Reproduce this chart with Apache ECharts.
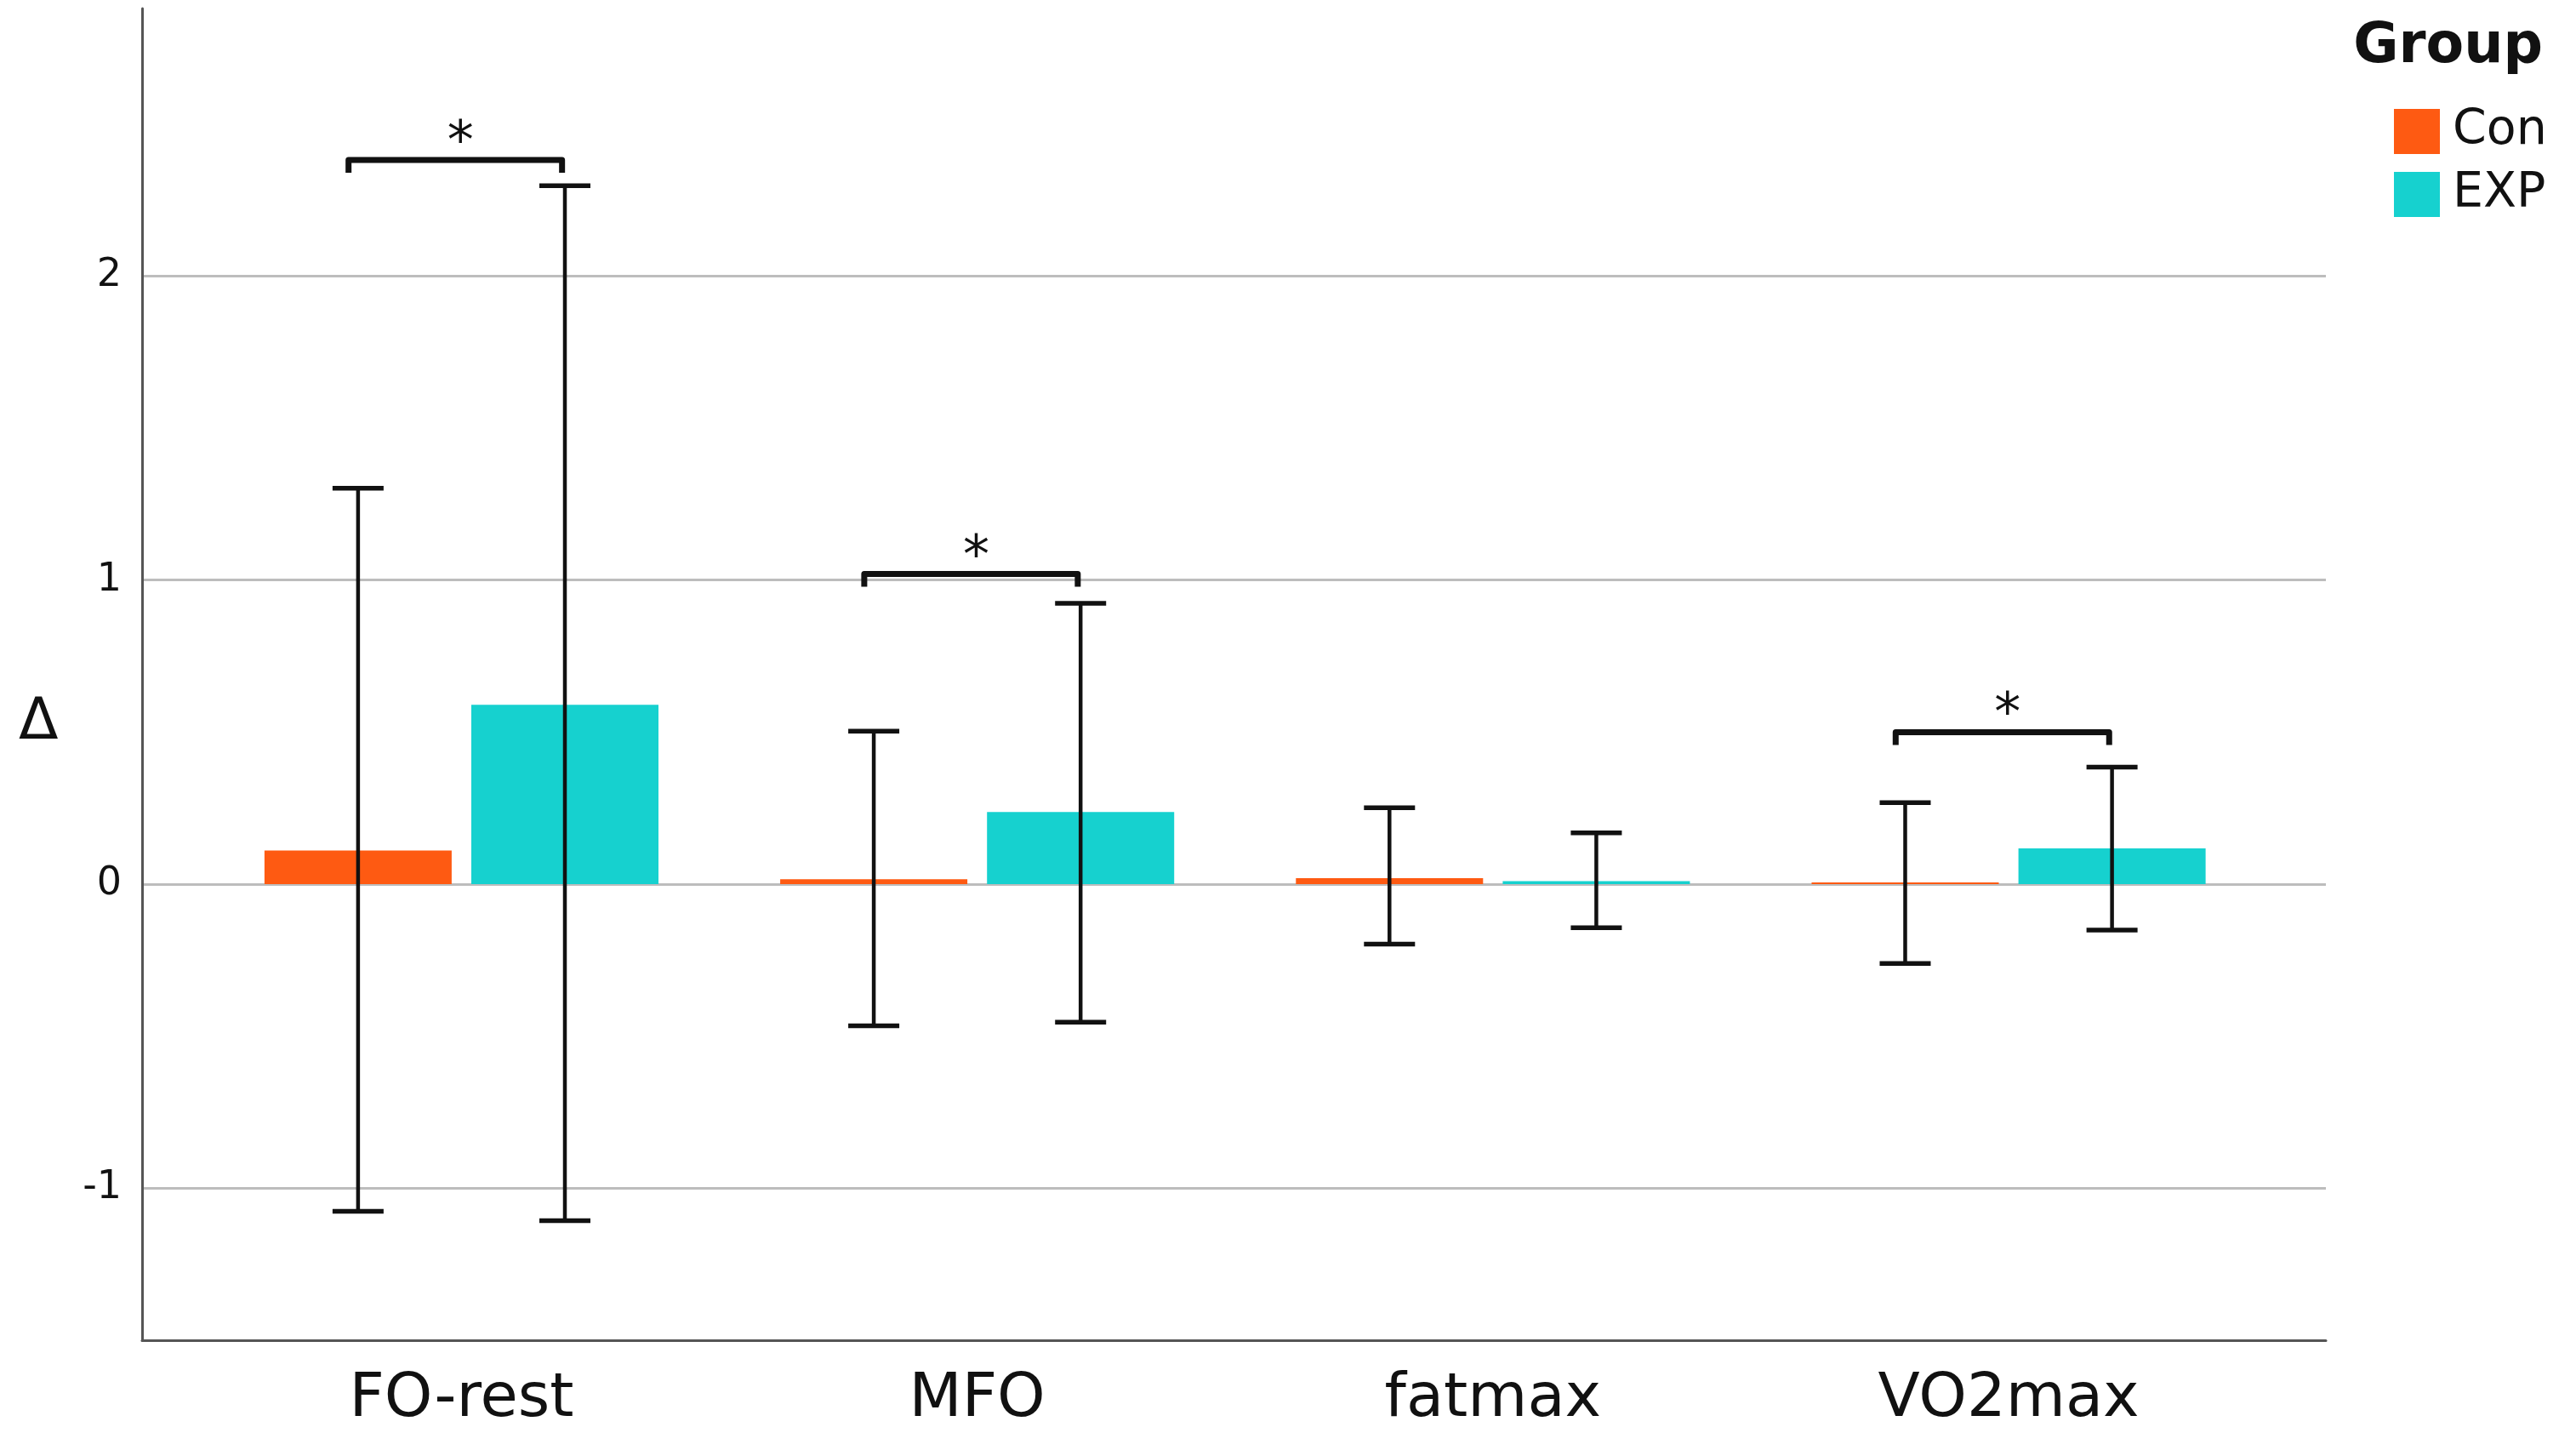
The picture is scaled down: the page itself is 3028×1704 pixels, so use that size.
<!DOCTYPE html>
<html>
<head>
<meta charset="utf-8">
<script src="https://cdn.jsdelivr.net/npm/echarts@6/dist/echarts.min.js"></script>
<style>html,body{margin:0;padding:0;background:#fff}#c{width:3028px;height:1704px}</style>
</head>
<body>
<div id="c"></div>
<script>
// ---- data ----
const categories = ['FO-rest', 'MFO', 'fatmax', 'VO2max'];
const groups = ['Con', 'EXP'];
const conMean = [0.111, 0.016, 0.02, 0.006];
const expMean = [0.59, 0.237, 0.01, 0.118];
const conLow  = [-1.076, -0.466, -0.197, -0.261];
const conHigh = [1.302, 0.503, 0.251, 0.268];
const expLow  = [-1.107, -0.454, -0.143, -0.151];
const expHigh = [2.297, 0.924, 0.169, 0.385];
const sigIndex = [0, 1, 3];
const sigLevel = [2.382, 1.02, 0.50];
const sigLabel = ['*', '*', '*'];
const yTickLabels = [-1, 0, 1, 2];
const yMin = -1.5, yMax = 2.88;

// ---- style ----
const FONT = 'DejaVu Sans';
const ORANGE = '#FE5A12';
const CYAN = '#16D1CF';
const CAT_GAP = 0.236, BAR_GAP = 0.105;

function barOffset(band, sign) {
  const w = band * (1 - CAT_GAP) / (2 + BAR_GAP);
  return sign * w * (1 + BAR_GAP) / 2;
}

function errorRender(sign) {
  return function (params, api) {
    const idx = api.value(0);
    const band = api.size([1, 0])[0];
    const x = api.coord([idx, 0])[0] + barOffset(band, sign);
    const yl = api.coord([idx, api.value(1)])[1];
    const yh = api.coord([idx, api.value(2)])[1];
    const cap = 30;
    const st = { stroke: '#111', lineWidth: 4.5 };
    const cs = { stroke: '#111', lineWidth: 5.5 };
    return {
      type: 'group',
      children: [
        { type: 'line', shape: { x1: x, y1: yl, x2: x, y2: yh }, style: st },
        { type: 'line', shape: { x1: x - cap, y1: yh, x2: x + cap, y2: yh }, style: cs },
        { type: 'line', shape: { x1: x - cap, y1: yl, x2: x + cap, y2: yl }, style: cs }
      ]
    };
  };
}

const chart = echarts.init(document.getElementById('c'), null, { renderer: 'canvas' });
chart.setOption({
  backgroundColor: '#fff',
  animation: false,
  title: [
    { text: 'Group', right: 39, top: 24, padding: 0,
      textStyle: { fontFamily: FONT, fontSize: 65, fontWeight: 'bold', color: '#111' } },
    { text: 'Δ', left: 22, top: 816, padding: 0,
      textStyle: { fontFamily: FONT, fontSize: 68, fontWeight: 'normal', color: '#111' } }
  ],
  legend: {
    data: groups, orient: 'vertical', left: 2814, top: 126, padding: 0,
    itemWidth: 54, itemHeight: 53, itemGap: 17, icon: 'rect',
    textStyle: { fontFamily: FONT, fontSize: 57, color: '#111', lineHeight: 53, padding: [0, 0, 0, 10] }
  },
  grid: [
    { left: 167, right: 294, top: 10, bottom: 129, outerBoundsMode: 'none' },
    { left: 239.35, right: 363.85, top: 10, bottom: 129, outerBoundsMode: 'none' }
  ],
  xAxis: [
    { gridIndex: 0, type: 'value', min: 0, max: 1,
      axisLine: { show: true, onZero: false, lineStyle: { color: '#555', width: 3 } },
      axisTick: { show: false }, axisLabel: { show: false }, splitLine: { show: false } },
    { gridIndex: 1, type: 'category', data: categories,
      axisLine: { show: false }, axisTick: { show: false },
      axisLabel: { fontFamily: FONT, fontSize: 72, color: '#111', margin: 34 },
      splitLine: { show: false } }
  ],
  yAxis: [
    { gridIndex: 0, type: 'value', min: yMin, max: yMax, interval: 0.5,
      axisLine: { show: true, onZero: false, lineStyle: { color: '#555', width: 3 } },
      axisTick: { show: false },
      axisLabel: { fontFamily: FONT, fontSize: 46, color: '#111', margin: 24,
        formatter: v => yTickLabels.includes(Math.round(v * 1000) / 1000) ? String(v) : '' },
      splitLine: { show: true, showMinLine: false, showMaxLine: false,
        lineStyle: { color: ['#bdbdbd', 'rgba(0,0,0,0)'], width: 3 } } },
    { gridIndex: 1, type: 'value', min: yMin, max: yMax, show: false, splitLine: { show: false } }
  ],
  series: [
    { name: 'Con', type: 'bar', xAxisIndex: 1, yAxisIndex: 1, data: conMean,
      itemStyle: { color: ORANGE }, barGap: (BAR_GAP * 100) + '%', barCategoryGap: (CAT_GAP * 100) + '%', z: 2 },
    { name: 'EXP', type: 'bar', xAxisIndex: 1, yAxisIndex: 1, data: expMean,
      itemStyle: { color: CYAN }, barGap: (BAR_GAP * 100) + '%', barCategoryGap: (CAT_GAP * 100) + '%', z: 2 },
    { type: 'custom', name: 'errCon', xAxisIndex: 1, yAxisIndex: 1, z: 5,
      renderItem: errorRender(-1), encode: { x: 0, y: [1, 2] },
      data: categories.map((c, i) => [i, conLow[i], conHigh[i]]) },
    { type: 'custom', name: 'errExp', xAxisIndex: 1, yAxisIndex: 1, z: 5,
      renderItem: errorRender(1), encode: { x: 0, y: [1, 2] },
      data: categories.map((c, i) => [i, expLow[i], expHigh[i]]) },
    { type: 'custom', name: 'sig', xAxisIndex: 1, yAxisIndex: 1, z: 6,
      encode: { x: 0, y: 1 },
      data: sigIndex.map((c, k) => [c, sigLevel[k], sigLabel[k]]),
      renderItem: function (params, api) {
        const idx = api.value(0);
        const band = api.size([1, 0])[0];
        const xc = api.coord([idx, 0])[0];
        const xl = xc - 0.219 * band;
        const xr = xc + 0.195 * band;
        const y = api.coord([idx, api.value(1)])[1];
        const tick = 15;
        const lbl = sigLabel[params.dataIndex];
        return {
          type: 'group',
          children: [
            { type: 'polyline', shape: { points: [[xl, y + tick], [xl, y], [xr, y], [xr, y + tick]] },
              style: { stroke: '#111', lineWidth: 7, fill: null, lineJoin: 'round' } },
            { type: 'text', style: { text: lbl, x: (xl + xr) / 2 + 6, y: y - 18,
              align: 'center', verticalAlign: 'middle', fontFamily: FONT, fontSize: 62, fill: '#111' } }
          ]
        };
      } }
  ]
});
</script>
</body>
</html>
